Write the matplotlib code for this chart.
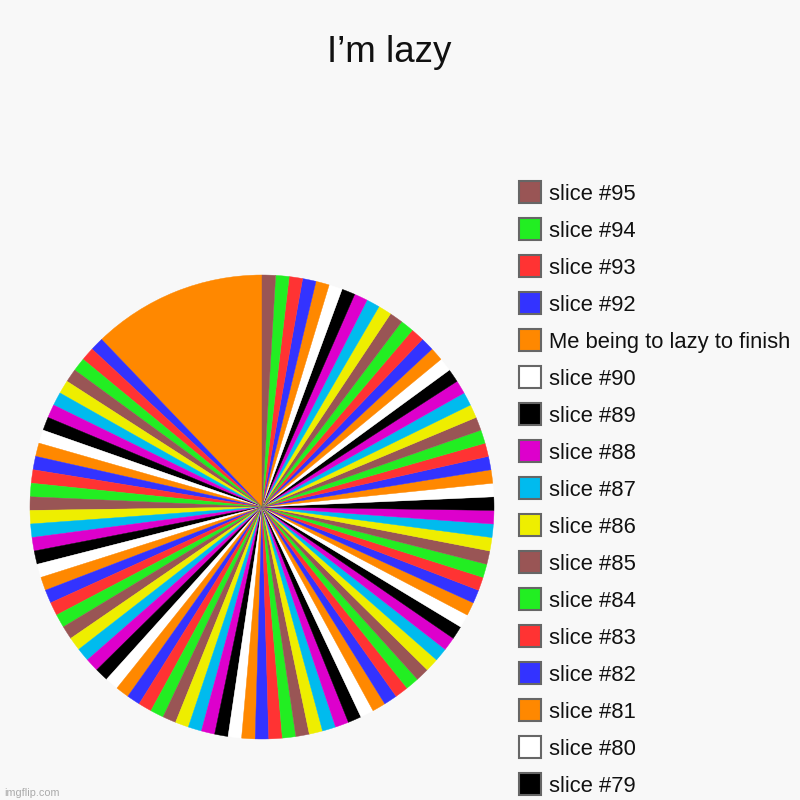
import matplotlib.pyplot as plt
from matplotlib.patches import Rectangle

plt.rcParams['font.family'] = ['Liberation Sans', 'DejaVu Sans']

# Slice sizes: the first slice is the big one, the rest are all one unit.
values = [13,
          1, 1, 1, 1, 1, 1, 1, 1, 1, 1,
          1, 1, 1, 1, 1, 1, 1, 1, 1, 1,
          1, 1, 1, 1, 1, 1, 1, 1, 1, 1,
          1, 1, 1, 1, 1, 1, 1, 1, 1, 1,
          1, 1, 1, 1, 1, 1, 1, 1, 1, 1,
          1, 1, 1, 1, 1, 1, 1, 1, 1, 1,
          1, 1, 1, 1, 1, 1, 1, 1, 1, 1,
          1, 1, 1, 1, 1, 1, 1, 1, 1, 1,
          1, 1, 1, 1, 1, 1, 1, 1, 1, 1,
          1, 1, 1, 1]
labels = ["slice #%d" % (i + 1) for i in range(len(values))]
labels[90] = "Me being to lazy to finish"

palette = ["#ff8800", "#3333ff", "#ff3333", "#22ee22", "#995555",
           "#eeee00", "#00bbee", "#dd00cc", "#000000", "#ffffff"]
colors = [palette[i % len(palette)] for i in range(len(values))]

bg = "#f8f8f8"
fig = plt.figure(figsize=(8, 8), dpi=100, facecolor=bg)

# Pie: centre at (262, 507) px, radius 232 px.
ax = fig.add_axes([30 / 800, (800 - 507 - 232) / 800, 464 / 800, 464 / 800])
ax.set_facecolor(bg)
ax.pie(values, colors=colors, startangle=90, counterclock=True,
       wedgeprops={"linewidth": 0.3, "antialiased": True})
for w, c in zip(ax.patches, colors):
    w.set_edgecolor(c)
ax.set_xlim(-1, 1)
ax.set_ylim(-1, 1)
ax.set_aspect("equal")
ax.axis("off")

fig.text(389.5 / 800, 1 - 62 / 800, "I’m lazy", fontsize=26.5,
         ha="center", va="baseline", color="#111111")

# Legend, last slice first; only the rows that fit in the picture.
y = 192
for i in range(len(values) - 1, -1, -1):
    if y > 790:
        break
    fig.add_artist(Rectangle((519 / 800, 1 - (y + 11) / 800), 22 / 800, 22 / 800,
                             transform=fig.transFigure, facecolor=colors[i],
                             edgecolor="#666666", linewidth=1.5))
    fig.text(549 / 800, 1 - (y + 8) / 800, labels[i], fontsize=15.8,
             ha="left", va="baseline", color="#111111")
    y += 37

fig.text(4 / 800, 1 - 796 / 800, "imgflip.com", fontsize=7.8,
         color="#aaaaaa", ha="left", va="baseline")

fig.savefig("out.png", dpi=100, facecolor=bg)
